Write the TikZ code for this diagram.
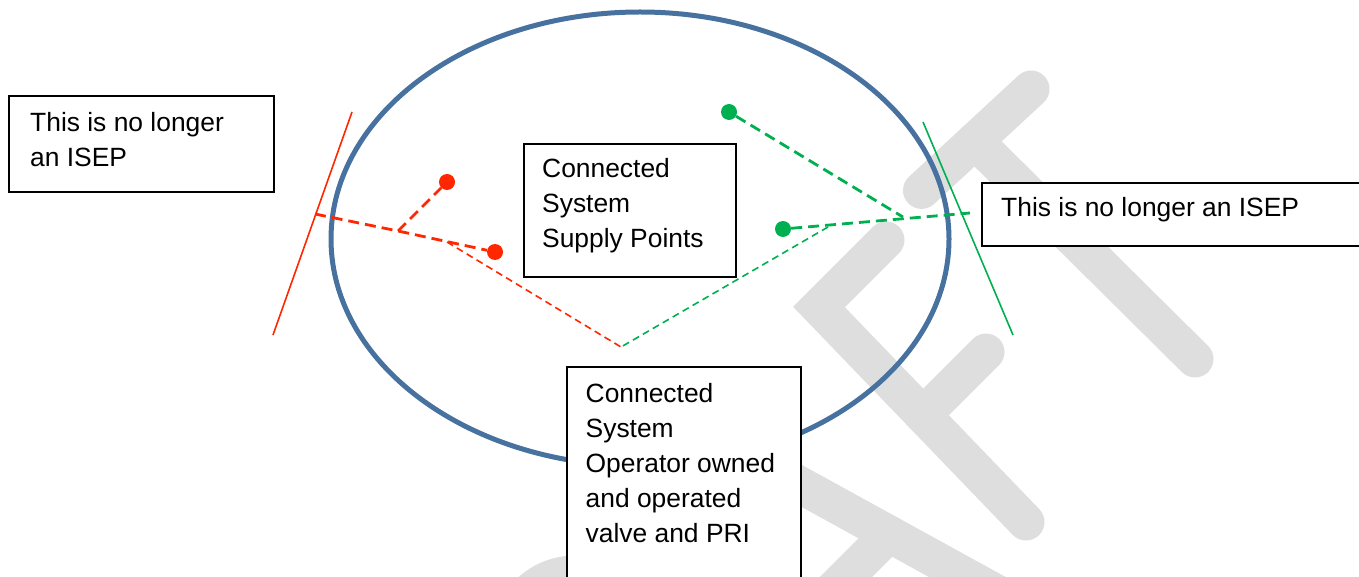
\documentclass[tikz,border=0pt]{standalone}
\usepackage{fontspec}
\setmainfont{Liberation Sans}
\usetikzlibrary{shapes.geometric}
\definecolor{sysblue}{RGB}{71,113,158}
\definecolor{ptred}{RGB}{255,38,0}
\definecolor{ptgreen}{RGB}{0,176,80}
\definecolor{wmgrey}{RGB}{222,222,222}
\begin{document}
\begin{tikzpicture}[x=1pt,y=-1pt,
  box/.style={draw=black,line width=1.8pt,fill=white,rectangle,inner sep=0pt,anchor=north west},
  txt/.style={inner sep=0pt,anchor=base west,font=\fontsize{26.4pt}{35pt}\selectfont},
  wm/.style={draw=wmgrey,line width=37pt,line cap=round,line join=miter},
  sysring/.style={ellipse,draw=sysblue,line width=5pt,minimum width=618pt,minimum height=454pt,inner sep=0pt},
  reddot/.style={circle,fill=ptred,minimum size=16pt,inner sep=0pt},
  greendot/.style={circle,fill=ptgreen,minimum size=16pt,inner sep=0pt},
  thickdash/.style={line width=2.8pt,dash pattern=on 11pt off 6pt},
  thindash/.style={line width=1.6pt,dash pattern=on 7pt off 4.5pt},
  boundary/.style={line width=1.6pt}]
\useasboundingbox (0,0) rectangle (1359,577);
\clip (0,0) rectangle (1359,577);
% watermark
\draw[wm] (1031,89) -- (921.5,190.4);
\draw[wm] (975,141) -- (1195,359);
\draw[wm] (886,240) -- (819,307) -- (1026,522);
\draw[wm] (986,352) -- (923,415);
\draw[wm] (700,430) -- (1060,628);
\draw[wm] (889,534) -- (800,623);
\draw[wm] (575,640) circle[radius=66pt];
% system ellipse
\node[sysring] (system) at (640,239) {};
% boundary lines
\coordinate (redA) at (352,112);
\coordinate (redB) at (273,335);
\coordinate (greenA) at (923,122);
\coordinate (greenB) at (1013,335);
\draw[ptred,boundary] (redA) -- (redB);
\draw[ptgreen,boundary] (greenA) -- (greenB);
% points
\node[reddot] (rd1) at (447,182) {};
\node[reddot] (rd2) at (495,252) {};
\node[greendot] (gd1) at (729,112) {};
\node[greendot] (gd2) at (783,229) {};
\coordinate (redtan) at (315,214);
\coordinate (redjoin) at (398,231);
\coordinate (redfork) at (447,242);
\coordinate (meet) at (621,347);
\coordinate (greentan) at (970,213);
\coordinate (greenjoin) at (903,217);
\coordinate (greenfork) at (828,227);
\draw[ptred,thickdash] (redtan) -- (redjoin) -- (rd2);
\draw[ptred,thickdash] (redjoin) -- (rd1);
\draw[ptred,thindash] (redfork) -- (meet);
\draw[ptgreen,thickdash] (gd2) -- (greentan);
\draw[ptgreen,thickdash] (gd1) -- (greenjoin);
\draw[ptgreen,thindash] (greenfork) -- (meet);
% boxes
\node[box,minimum width=265pt,minimum height=96pt] (leftbox) at (8,95) {};
\node[box,minimum width=212pt,minimum height=133pt] (supplybox) at (523,143) {};
\node[box,minimum width=400pt,minimum height=63pt] (rightbox) at (981,182) {};
\node[box,minimum width=234pt,minimum height=250pt] (valvebox) at (566,366) {};
% texts
\node[txt] (lefttext) at (30,132) {\vtop{\hbox{This is no longer}\hbox{an ISEP}}};
\node[txt] (supplytext) at (542,178) {\vtop{\hbox{Connected}\hbox{System}\hbox{Supply Points}}};
\node[txt] (righttext) at (1001,217) {This is no longer an ISEP};
\node[txt] (valvetext) at (585.5,402) {\vtop{\hbox{Connected}\hbox{System}\hbox{Operator owned}\hbox{and operated}\hbox{valve and PRI}}};
\end{tikzpicture}
\end{document}
